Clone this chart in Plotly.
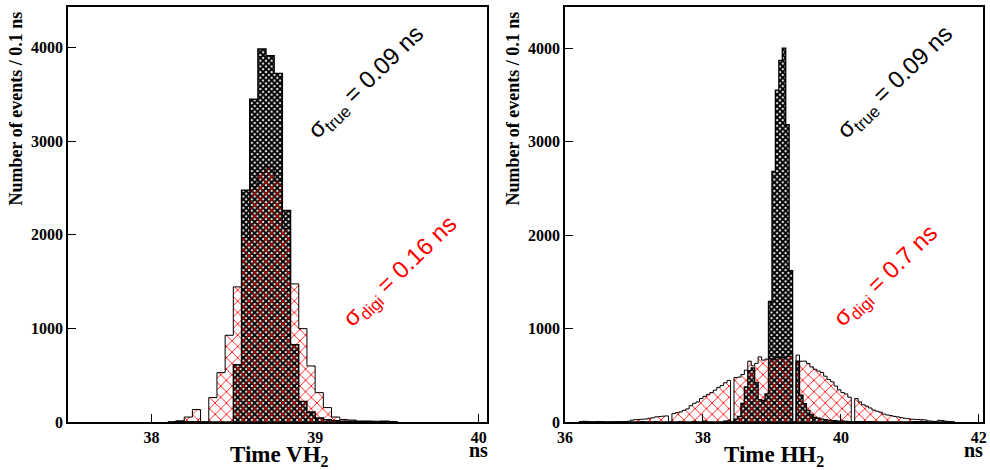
import numpy as np
import plotly.graph_objects as go

W, H = 990, 470
BIN = 0.05  # ns per bin

# ---- Time VH2 (left panel): bins start at 38.10 ns ----
vh_start = 38.10
vh_true = [0, 8, 5, 3, 0, 0, 0, 0, 613, 2478,
           3451, 3986, 3914, 3725, 2260, 827, 221, 107, 43, 25,
           15, 10, 8, 5, 4, 3, 8, 3]
vh_digi = [0, 10, 53, 133, 0, 261, 528, 927, 1444, 1971,
           2515, 2667, 2727, 2574, 2068, 1476, 998, 599, 314, 154,
           53, 26, 21, 11, 11, 8, 5, 3]

# ---- Time HH2 (right panel): bins start at 36.20 ns ----
hh_start = 36.20
hh_true = [0, 0, 0, 0, 0, 0, 0, 0, 0, 0,
           0, 0, 0, 0, 0, 0, 0, 0, 3, 0,
           0, 0, 4, 0, 0, 0, 0, 0, 0, 5,
           0, 0, 0, 6, 0, 0, 10, 0, 0, 0,
           0, 0, 8, 12, 0, 30, 60, 200, 375, 550,
           580, 420, 240, 230, 300, 1290, 2680, 3550, 3870, 4000,
           3180, 1620, 0, 650, 286, 197, 125, 80, 50, 40,
           30, 25, 20, 15, 12, 10, 8, 6, 5, 0,
           4, 3, 3, 2, 2, 2, 0, 0, 0, 0,
           0, 0, 0, 0, 0, 0, 0, 5, 5, 5,
           5, 0, 0, 0, 0, 0, 0, 0, 0]
hh_digi = [0, 8, 6, 0, 0, 6, 5, 0, 0, 0,
           3, 3, 5, 5, 8, 20, 25, 27, 30, 32,
           40, 45, 55, 58, 62, 65, 0, 90, 100, 108,
           125, 140, 175, 200, 215, 250, 275, 295, 315, 340,
           370, 390, 420, 445, 0, 476, 480, 508, 555, 651,
           601, 627, 697, 662, 673, 680, 665, 690, 680, 690,
           700, 726, 0, 716, 650, 651, 627, 590, 565, 545,
           530, 490, 455, 430, 385, 345, 315, 300, 265, 0,
           251, 215, 185, 170, 150, 128, 115, 105, 85, 75,
           69, 60, 55, 47, 40, 36, 30, 28, 26, 25,
           22, 12, 8, 6, 18, 15, 8, 5, 0]

panels = [
    dict(start=vh_start, true=vh_true, digi=vh_digi, xr=[37.49, 40.05], yr=[0, 4435],
         xt="Time VH<sub>2</sub>", dig="0.16"),
    dict(start=hh_start, true=hh_true, digi=hh_digi, xr=[36.0, 42.06], yr=[0, 4440],
         xt="Time HH<sub>2</sub>", dig="0.7"),
]

# plot-area pixel boxes (left, right) for each panel
px_x = [(68, 487), (565, 983)]
px_top, px_bot = 7, 422


def px(xp, yp):
    return xp / W, 1 - yp / H


def step_outline(edges, counts):
    xs = [edges[0]] + list(edges[:-1]) + [edges[-1]]
    ys = [0] + list(counts) + [0]
    return xs, ys


fig = go.Figure()
serif = "Liberation Serif"
sans = "Liberation Sans"

for i, p in enumerate(panels):
    n = len(p["true"])
    edges = np.round(p["start"] + BIN * np.arange(n + 1), 4)
    left = edges[:-1]
    xa = "x" if i == 0 else "x2"
    ya = "y" if i == 0 else "y2"

    # true-time histogram: dense black cross-hatch
    fig.add_trace(go.Bar(
        x=left, y=p["true"], width=BIN, offset=0, xaxis=xa, yaxis=ya,
        marker=dict(color="black", line=dict(width=0),
                    pattern=dict(shape="x", fgcolor="black", bgcolor="white",
                                 size=4, solidity=0.75, fillmode="replace")),
        hoverinfo="skip"))
    # digitized-time histogram: open red cross-hatch
    fig.add_trace(go.Bar(
        x=left, y=p["digi"], width=BIN, offset=0, xaxis=xa, yaxis=ya,
        marker=dict(color="rgba(0,0,0,0)", line=dict(width=0),
                    pattern=dict(shape="x", fgcolor="#ff0000", bgcolor="rgba(0,0,0,0)",
                                 size=8, solidity=0.2, fillmode="replace")),
        hoverinfo="skip"))
    # step outlines
    for counts, lw in ((p["true"], 1.3), (p["digi"], 1.0)):
        sx, sy = step_outline(edges, counts)
        fig.add_trace(go.Scatter(
            x=sx, y=sy, mode="lines", line=dict(color="black", width=lw, shape="hv"),
            xaxis=xa, yaxis=ya, hoverinfo="skip"))

    x0, x1 = px_x[i]
    axis_common = dict(showline=True, linecolor="black", linewidth=1.5, mirror=True,
                       ticks="inside", ticklen=8, tickcolor="black", tickwidth=1.2,
                       showgrid=False, zeroline=False, automargin=False,
                       tickfont=dict(family=serif, size=16, color="black", weight="bold"))
    xkey = "xaxis" if i == 0 else "xaxis2"
    ykey = "yaxis" if i == 0 else "yaxis2"
    fig.update_layout(**{
        xkey: dict(domain=[x0 / W, x1 / W], range=p["xr"], dtick=1 if i == 0 else 2,
                   tick0=0, anchor=ya, **axis_common),
        ykey: dict(domain=[1 - px_bot / H, 1 - px_top / H], range=p["yr"], dtick=1000,
                   anchor=xa, **axis_common),
    })

    # axis titles
    tx, ty = px(279 if i == 0 else 774, 456)
    fig.add_annotation(x=tx, y=ty, xref="paper", yref="paper", text=p["xt"],
                       showarrow=False, xanchor="center", yanchor="middle",
                       font=dict(family=serif, size=23, color="black", weight="bold"))
    nx, ny = px(478 if i == 0 else 973, 450)
    fig.add_annotation(x=nx, y=ny, xref="paper", yref="paper", text="ns",
                       showarrow=False, xanchor="center", yanchor="middle",
                       font=dict(family=serif, size=20, color="black", weight="bold"))
    yx, yy = px(15.5 if i == 0 else 512.5, 109)
    fig.add_annotation(x=yx, y=yy, xref="paper", yref="paper",
                       text="Number of events / 0.1 ns", textangle=-90,
                       showarrow=False, xanchor="center", yanchor="middle",
                       font=dict(family=serif, size=18, color="black", weight="bold"))

    # resolution labels
    sx_, sy_ = px(367 if i == 0 else 896, 83)
    fig.add_annotation(x=sx_, y=sy_, xref="paper", yref="paper",
                       text="σ<sub>true</sub> = 0.09 ns", textangle=-44,
                       showarrow=False, xanchor="center", yanchor="middle",
                       font=dict(family=sans, size=24, color="black"))
    rx, ry = px(400 if i == 0 else 886, 272 if i == 0 else 276)
    fig.add_annotation(x=rx, y=ry, xref="paper", yref="paper",
                       text="σ<sub>digi</sub> = " + p["dig"] + " ns", textangle=-44,
                       showarrow=False, xanchor="center", yanchor="middle",
                       font=dict(family=sans, size=24, color="#ff0000"))

fig.update_layout(width=W, height=H, margin=dict(l=0, r=0, t=0, b=0),
                  barmode="overlay", bargap=0, showlegend=False,
                  plot_bgcolor="white", paper_bgcolor="white")

fig.write_html("out.html")
